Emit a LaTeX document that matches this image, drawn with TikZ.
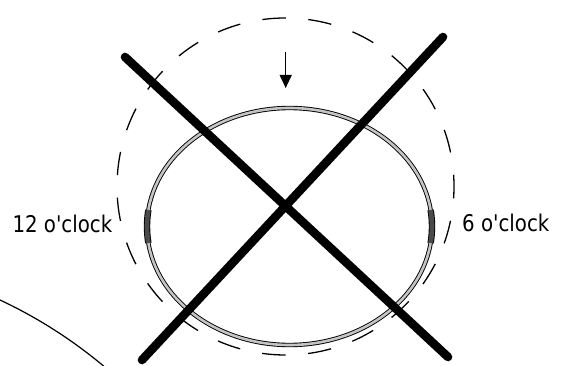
\documentclass[tikz,border=0pt]{standalone}
\usepackage{fontspec}
\newfontfamily\lblfont{DejaVu Sans}[FakeStretch=0.86]
\usetikzlibrary{arrows.meta}
\tikzset{
  ring/.style={line width=0.9pt, double=ringgray, double distance=2.6pt},
  marker/.style={line width=0.9pt, double=markgray, double distance=4.6pt},
  bar/.style={line width=8.6pt, line cap=round},
  dashring/.style={line width=1.3pt, dash pattern=on 23.5pt off 22.53pt},
  thinarc/.style={line width=1.2pt},
  label/.style={inner sep=0pt, font=\lblfont\fontsize{23}{27}\selectfont},
}
\definecolor{ringgray}{HTML}{C4C4C4}
\definecolor{markgray}{HTML}{4A4A4A}
\begin{document}
\begin{tikzpicture}[x=1pt,y=-1pt]
\useasboundingbox (0,0) rectangle (562,366);
\clip (0,0) rectangle (562,366);
\fill[white] (0,0) rectangle (562,366);
% coordinates
\coordinate (dc) at (285.5,186.5);
\coordinate (ec) at (289.5,226.5);
\coordinate (bc) at (-202,731);
\coordinate (a1) at (125,57);
\coordinate (a2) at (448,357);
\coordinate (b1) at (443,37);
\coordinate (b2) at (142,360);
\coordinate (ar1) at (285.7,52);
\coordinate (ar2) at (285.7,88);
% big arc lower left
\draw[thinarc] (bc) ++(68:476pt) arc[start angle=68, end angle=46, radius=476pt];
% dashed circle
\draw[dashring] (dc) ++(-4:168.5pt) arc[start angle=-4, end angle=356, radius=168.5pt];
% ellipse ring
\draw[ring] (ec) ellipse [x radius=142.5pt, y radius=118.5pt];
% markers
\draw[marker] (ec) ++(172:142.5pt and 118.5pt) arc[start angle=172, end angle=188, x radius=142.5pt, y radius=118.5pt];
\draw[marker] (ec) ++(-8:142.5pt and 118.5pt) arc[start angle=-8, end angle=8, x radius=142.5pt, y radius=118.5pt];
% X
\draw[bar] (a1) -- (a2);
\draw[bar] (b1) -- (b2);
% arrow
\draw[line width=1.2pt, -{Triangle[length=13pt,width=12pt]}] (ar1) -- (ar2);
% labels
\node[label, anchor=base east] (l12) at (112.5,233) {12 o'clock};
\node[label, anchor=base west] (l6) at (462,232) {6 o'clock};
\end{tikzpicture}
\end{document}
